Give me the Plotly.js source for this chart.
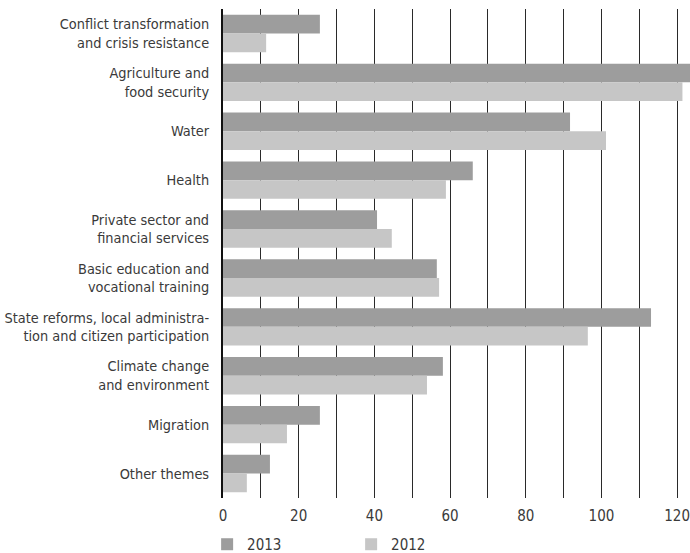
<!DOCTYPE html>
<html>
<head>
<meta charset="utf-8">
<script src="https://cdn.plot.ly/plotly-3.0.1.min.js"></script>
<style>
  html, body { margin: 0; padding: 0; background: #fff; }
  #chart { width: 690px; height: 553px; }
</style>
</head>
<body>
<div id="chart"></div>
<script>
// Thematic areas, listed top to bottom
const themes = [
  "Conflict transformation<br>and crisis resistance",
  "Agriculture and<br>food security",
  "Water",
  "Health",
  "Private sector and<br>financial services",
  "Basic education and<br>vocational training",
  "State reforms, local administra-<br>tion and citizen participation",
  "Climate change<br>and environment",
  "Migration",
  "Other themes"
];

const values2013 = [25.6, 124.5, 91.7, 66.0, 40.7, 56.5, 113.1, 58.1, 25.6, 12.4];
const values2012 = [11.4, 121.4, 101.2, 58.9, 44.6, 57.1, 96.4, 53.9, 16.9, 6.3];

const xTicks = [0, 20, 40, 60, 80, 100, 120];

const FONT = "'DejaVu Sans Condensed', 'DejaVu Sans', sans-serif";
const TEXT = "#3a3a3a";
const FS = 15;

const traces = [
  {
    type: "bar", orientation: "h", name: "2013",
    y: themes, x: values2013,
    marker: { color: "#9d9d9d", line: { width: 0 } },
    hoverinfo: "x+name"
  },
  {
    type: "bar", orientation: "h", name: "2012",
    y: themes, x: values2012,
    marker: { color: "#c6c6c6", line: { width: 0 } },
    hoverinfo: "x+name"
  }
];

const layout = {
  width: 690,
  height: 553,
  margin: { l: 223, r: 0, t: 9, b: 55, autoexpand: false },
  paper_bgcolor: "#fff",
  plot_bgcolor: "#fff",
  font: { family: FONT, size: FS, color: TEXT },
  barmode: "group",
  bargap: 0.235,
  bargroupgap: 0,
  showlegend: true,
  legend: {
    orientation: "h",
    x: -0.034, xanchor: "left",
    y: -0.0613, yanchor: "top",
    traceorder: "normal",
    entrywidth: 99,
    font: { family: FONT, size: FS, color: TEXT },
    bgcolor: "rgba(0,0,0,0)"
  },
  xaxis: {
    range: [0, 123.4],
    tickvals: xTicks,
    ticktext: xTicks.map(String),
    ticks: "outside", ticklen: 4, tickcolor: "rgba(0,0,0,0)",
    ticklabeloverflow: "allow",
    showgrid: true, gridcolor: "#2a2a2a", gridwidth: 1,
    minor: { dtick: 10, tick0: 0, showgrid: true, gridcolor: "#2a2a2a", gridwidth: 1 },
    zeroline: false,
    showline: false,
    tickfont: { family: FONT, size: FS, color: TEXT },
    fixedrange: true
  },
  yaxis: {
    autorange: "reversed",
    type: "category",
    showgrid: false,
    zeroline: false,
    showline: true, linecolor: "#111", linewidth: 2,
    ticks: "outside", ticklen: 9, tickcolor: "rgba(0,0,0,0)",
    tickfont: { family: FONT, size: 14.4, color: TEXT },
    fixedrange: true
  }
};

Plotly.newPlot("chart", traces, layout, { displayModeBar: false, staticPlot: true });
</script>
</body>
</html>
